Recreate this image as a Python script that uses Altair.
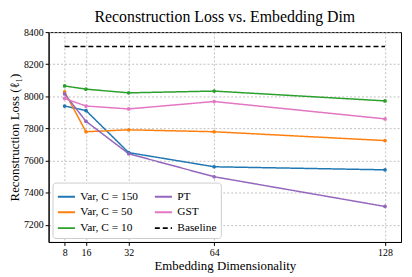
import altair as alt
import pandas as pd

dims = [8, 16, 32, 64, 128]
var150 = [7940, 7912, 7650, 7562, 7543]
var50 = [8028, 7780, 7792, 7780, 7725]
var10 = [8065, 8045, 8022, 8033, 7972]
pt = [8015, 7845, 7643, 7500, 7315]
gst = [7987, 7940, 7922, 7968, 7860]
baseline_dims = [8, 128]
baseline_val = [8310, 8310]

series_order = ["Var, C = 150", "Var, C = 50", "Var, C = 10", "PT", "GST", "Baseline"]
series_colors = ["#1f77b4", "#ff7f0e", "#2ca02c", "#9467bd", "#e377c2", "#000000"]
series_dash = [[1, 0], [1, 0], [1, 0], [1, 0], [1, 0], [5, 3]]

rows = []
for name, vals in [("Var, C = 150", var150), ("Var, C = 50", var50), ("Var, C = 10", var10),
                   ("PT", pt), ("GST", gst)]:
    for d, v in zip(dims, vals):
        rows.append({"dim": d, "loss": v, "series": name})
for d, v in zip(baseline_dims, baseline_val):
    rows.append({"dim": d, "loss": v, "series": "Baseline"})
df = pd.DataFrame(rows)

font = "Liberation Serif"

x = alt.X("dim:Q", title="Embedding Dimensionality",
          scale=alt.Scale(domain=[2, 134], nice=False, zero=False),
          axis=alt.Axis(values=dims, format="d"))
y = alt.Y("loss:Q", title="Reconstruction Loss (ℓ₁)",
          scale=alt.Scale(domain=[7094, 8400], nice=False, zero=False),
          axis=alt.Axis(values=[7200, 7400, 7600, 7800, 8000, 8200, 8400], format="d"))

color = alt.Color("series:N", scale=alt.Scale(domain=series_order, range=series_colors),
                  sort=series_order,
                  legend=alt.Legend(title=None, orient="bottom-left", columns=2,
                                    symbolType="stroke", symbolSize=300, symbolStrokeWidth=2,
                                    labelFont=font, labelFontSize=11.5, labelColor="black",
                                    columnPadding=12, rowPadding=0,
                                    padding=4, offset=4,
                                    strokeColor="#cccccc", fillColor="white",
                                    cornerRadius=3, labelLimit=200))
dash = alt.StrokeDash("series:N", scale=alt.Scale(domain=series_order, range=series_dash),
                      sort=series_order, legend=alt.Legend(title=None))

lines = alt.Chart(df).mark_line(strokeWidth=1.5).encode(x=x, y=y, color=color, strokeDash=dash, detail="series:N")
points = alt.Chart(df).transform_filter(alt.datum.series != "Baseline").mark_point(
    filled=True, size=14, opacity=1).encode(
    x=x, y=y,
    color=alt.Color("series:N", scale=alt.Scale(domain=series_order, range=series_colors), legend=None))

chart = alt.layer(lines, points).properties(
    width=400, height=266,
    autosize=alt.AutoSizeParams(type="fit", contains="padding"),
    title=alt.TitleParams("Reconstruction Loss vs. Embedding Dim", font=font, fontSize=16,
                          fontWeight="normal", color="black", offset=2),
    padding={"left": 0, "top": 0, "right": 3, "bottom": 0},
).configure(font=font).configure_view(stroke="black", strokeWidth=1).configure_axis(
    labelFont=font, labelFontSize=10, labelColor="black",
    titleFont=font, titleFontSize=13, titleFontWeight="normal", titleColor="black",
    grid=True, gridColor="#b0b0b0", gridDash=[2, 2], gridWidth=0.8,
    domainColor="black", tickColor="black", tickSize=3.5, labelPadding=2, titlePadding=2,
)

chart.save("out.html", embed_options={"renderer": "svg", "actions": False})
